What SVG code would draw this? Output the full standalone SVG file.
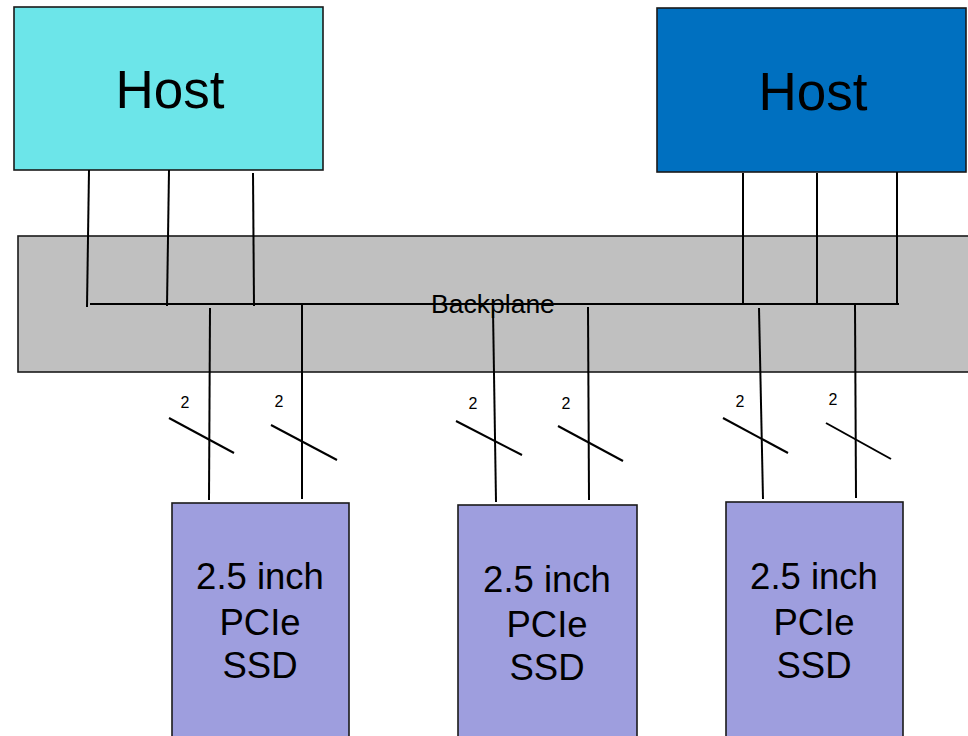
<svg xmlns="http://www.w3.org/2000/svg" width="968" height="736" viewBox="0 0 968 736">
  <style>
    .box { stroke: #1a1a1a; stroke-width: 1.6; }
    .wire { stroke: #000; stroke-width: 2; fill: none; stroke-linecap: butt; }
    .lbl { font-family: "Liberation Sans", Arial, sans-serif; fill: #000; text-anchor: middle; }
    .host { font-size: 53px; }
    .ssd { font-size: 36.5px; }
    .bp { font-size: 26.5px; }
    .lane { font-size: 16px; }
  </style>
  <rect width="968" height="736" fill="#ffffff"/>

  <!-- Backplane board -->
  <g id="backplane">
    <rect class="box" x="18" y="236" width="960" height="136" fill="#c0c0c0"/>
  </g>

  <!-- Hosts -->
  <g id="host-left">
    <rect class="box" x="14" y="7" width="309" height="163" fill="#6ce5e9"/>
    <text class="lbl host" x="170" y="108">Host</text>
  </g>
  <g id="host-right">
    <rect class="box" x="657" y="8" width="309" height="164" fill="#0070c0"/>
    <text class="lbl host" x="813" y="110">Host</text>
  </g>

  <!-- SSDs -->
  <g id="ssd-1">
    <rect class="box" x="172" y="503" width="177" height="250" fill="#9e9ede"/>
    <text class="lbl ssd" x="260" y="589">2.5 inch</text>
    <text class="lbl ssd" x="260" y="635">PCIe</text>
    <text class="lbl ssd" x="260" y="678">SSD</text>
  </g>
  <g id="ssd-2">
    <rect class="box" x="458" y="505" width="179" height="250" fill="#9e9ede"/>
    <text class="lbl ssd" x="547" y="592">2.5 inch</text>
    <text class="lbl ssd" x="547" y="637">PCIe</text>
    <text class="lbl ssd" x="547" y="680">SSD</text>
  </g>
  <g id="ssd-3">
    <rect class="box" x="726" y="502" width="177" height="250" fill="#9e9ede"/>
    <text class="lbl ssd" x="814" y="589">2.5 inch</text>
    <text class="lbl ssd" x="814" y="635">PCIe</text>
    <text class="lbl ssd" x="814" y="678">SSD</text>
  </g>

  <!-- Wiring: host links, shared bus, SSD lanes -->
  <g id="connectors">
    <line class="wire" x1="89" y1="170" x2="87" y2="307"/>
    <line class="wire" x1="169" y1="170" x2="167" y2="306"/>
    <line class="wire" x1="253" y1="173" x2="254" y2="306"/>
    <line class="wire" x1="743" y1="173" x2="743" y2="304"/>
    <line class="wire" x1="817" y1="173" x2="817" y2="305"/>
    <line class="wire" x1="897" y1="172" x2="897" y2="304"/>
    <line class="wire" x1="90" y1="304" x2="899" y2="304"/>

    <line class="wire" x1="210" y1="308" x2="209" y2="500"/>
    <line class="wire" x1="302" y1="304" x2="302" y2="499"/>
    <line class="wire" x1="493" y1="310" x2="496" y2="502"/>
    <line class="wire" x1="588" y1="307" x2="589" y2="500"/>
    <line class="wire" x1="759" y1="308" x2="763" y2="499"/>
    <line class="wire" x1="855" y1="305" x2="856" y2="498"/>

    <line class="wire" x1="169" y1="418" x2="234" y2="453"/>
    <line class="wire" x1="271" y1="425" x2="337" y2="460"/>
    <line class="wire" x1="456" y1="421" x2="522" y2="455"/>
    <line class="wire" x1="558" y1="426" x2="623" y2="461"/>
    <line class="wire" x1="723" y1="418" x2="788" y2="453"/>
    <line class="wire" x1="826" y1="423" x2="891" y2="459"/>
  </g>

  <!-- Lane-count labels -->
  <g id="lane-labels">
    <text class="lbl lane" x="185" y="408">2</text>
    <text class="lbl lane" x="279" y="407">2</text>
    <text class="lbl lane" x="473" y="409">2</text>
    <text class="lbl lane" x="566" y="409">2</text>
    <text class="lbl lane" x="740" y="407">2</text>
    <text class="lbl lane" x="833" y="405">2</text>
  </g>

  <text class="lbl bp" x="493" y="313">Backplane</text>
</svg>
